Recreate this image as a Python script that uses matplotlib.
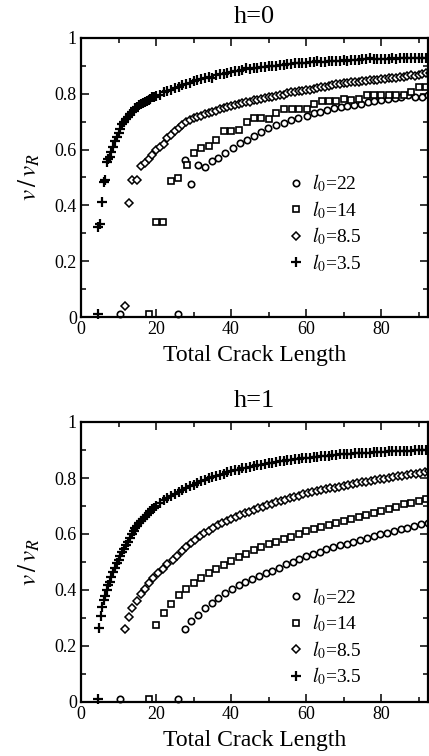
import matplotlib
matplotlib.use('Agg')
import matplotlib.pyplot as plt
from matplotlib.ticker import MultipleLocator, FuncFormatter

plt.rcParams['font.family'] = ['Liberation Serif', 'DejaVu Serif']
plt.rcParams['mathtext.fontset'] = 'stix'

# ---- data: h=0 panel ----
h0_x_22 = [10.5, 25.8, 27.7, 29.4, 31.2, 33.1, 34.8, 36.6, 38.4, 40.4,
           42.4, 44.2, 46.1, 48.0, 49.9, 52.0, 54.0, 56.0, 57.9, 60.2,
           62.0, 63.8, 65.6, 67.4, 69.2, 71.0, 72.8, 74.6, 76.4, 78.2,
           80.0, 81.8, 83.6, 85.4, 87.2, 89.0, 90.8, 92.6]
h0_y_22 = [0.01, 0.01, 0.562, 0.476, 0.544, 0.536, 0.56, 0.57, 0.589, 0.604,
           0.622, 0.634, 0.648, 0.664, 0.676, 0.688, 0.694, 0.706, 0.712, 0.722,
           0.73, 0.736, 0.742, 0.748, 0.753, 0.756, 0.76, 0.763, 0.771, 0.775,
           0.778, 0.78, 0.784, 0.79, 0.795, 0.79, 0.79, 0.795]

h0_x_14 = [18.0, 19.9, 21.9, 24.0, 25.9, 28.2, 30.1, 32.0, 34.1, 36.1,
           38.0, 40.0, 42.0, 44.2, 46.1, 48.0, 50.1, 52.0, 54.1, 56.2,
           58.2, 60.2, 62.1, 64.2, 66.0, 68.0, 70.0, 72.0, 74.0, 76.2,
           78.2, 80.1, 82.1, 84.1, 86.1, 88.1, 90.0, 92.0]
h0_y_14 = [0.01, 0.341, 0.341, 0.487, 0.50, 0.545, 0.589, 0.606, 0.614, 0.634,
           0.666, 0.666, 0.672, 0.70, 0.712, 0.715, 0.71, 0.73, 0.745, 0.745,
           0.745, 0.745, 0.762, 0.775, 0.775, 0.775, 0.781, 0.777, 0.781, 0.795,
           0.795, 0.795, 0.795, 0.795, 0.795, 0.805, 0.823, 0.823]

h0_x_85 = [11.6, 12.7, 13.7, 14.9,
           16, 17, 18, 19, 20, 21, 22, 23, 24, 25, 26, 27, 28, 29, 30,
           31, 32, 33, 34, 35, 36, 37, 38, 39, 40, 41, 42, 43, 44, 45,
           46, 47, 48, 49, 50, 51, 52, 53, 54, 55, 56, 57, 58, 59, 60,
           61, 62, 63, 64, 65, 66, 67, 68, 69, 70, 71, 72, 73, 74, 75,
           76, 77, 78, 79, 80, 81, 82, 83, 84, 85, 86, 87, 88, 89, 90,
           91, 92, 93]
h0_y_85 = [0.038, 0.409, 0.49, 0.49,
           0.54, 0.552, 0.566, 0.58, 0.598, 0.61, 0.62, 0.64, 0.652, 0.665,
           0.676, 0.688, 0.70, 0.705, 0.712, 0.716, 0.722, 0.728, 0.732, 0.736,
           0.74, 0.745, 0.748, 0.752, 0.756, 0.76, 0.763, 0.766, 0.77, 0.772,
           0.776, 0.779, 0.782, 0.784, 0.787, 0.79, 0.792, 0.795, 0.797, 0.803,
           0.805, 0.807, 0.809, 0.811, 0.813, 0.815, 0.818, 0.82, 0.823, 0.825,
           0.828, 0.83, 0.835, 0.835, 0.838, 0.84, 0.841, 0.843, 0.844, 0.846,
           0.847, 0.848, 0.85, 0.851, 0.852, 0.853, 0.855, 0.856, 0.858, 0.859,
           0.861, 0.863, 0.866, 0.864, 0.868, 0.872, 0.874, 0.876]

h0_x_35 = [4.5, 4.6, 5.0, 5.6, 6.1, 6.3,
           6.9, 7.2, 7.6, 8.0, 8.5, 9.0, 9.5, 10.0, 10.5, 11.0, 11.5, 12.0,
           12.5, 13.0, 13.5, 14.0, 14.5, 15.0, 15.5, 16.0, 16.5, 17.0, 17.5,
           18.0, 18.5, 19.0, 19.5, 20.0,
           21, 22, 23, 24, 25, 26, 27, 28, 29, 30,
           31, 32, 33, 34, 35, 36, 37, 38, 39, 40,
           41, 42, 43, 44, 45, 46, 47, 48, 49, 50,
           51, 52, 53, 54, 55, 56, 57, 58, 59, 60,
           61, 62, 63, 64, 65, 66, 67, 68, 69, 70,
           71, 72, 73, 74, 75, 76, 77, 78, 79, 80,
           81, 82, 83, 84, 85, 86, 87, 88, 89, 90,
           91, 92, 93]
h0_y_35 = [0.01, 0.323, 0.335, 0.413, 0.485, 0.49,
           0.556, 0.565, 0.575, 0.59, 0.61, 0.63, 0.645, 0.66, 0.675, 0.69,
           0.70, 0.71, 0.718, 0.728, 0.735, 0.74, 0.748, 0.752, 0.76, 0.762,
           0.768, 0.77, 0.775, 0.778, 0.782, 0.787, 0.79, 0.792,
           0.797, 0.805, 0.81, 0.815, 0.82, 0.826, 0.83, 0.836, 0.84, 0.846,
           0.85, 0.853, 0.858, 0.86, 0.858, 0.866, 0.87, 0.872, 0.874, 0.878,
           0.88, 0.882, 0.884, 0.892, 0.888, 0.892, 0.893, 0.895, 0.897, 0.898,
           0.90, 0.898, 0.903, 0.905, 0.906, 0.907, 0.909, 0.91, 0.91, 0.912,
           0.913, 0.913, 0.918, 0.915, 0.915, 0.916, 0.918, 0.918, 0.919, 0.92,
           0.916, 0.921, 0.922, 0.922, 0.923, 0.923, 0.928, 0.924, 0.925, 0.925,
           0.926, 0.926, 0.927, 0.923, 0.927, 0.928, 0.928, 0.929, 0.929, 0.93,
           0.93, 0.93, 0.931]

# ---- data: h=1 panel ----
h1_x_22 = [10.5, 25.8, 27.6, 29.4, 31.2, 33.0, 34.8, 36.6, 38.4, 40.2,
           42.0, 43.8, 45.6, 47.4, 49.2, 51.0, 52.8, 54.6, 56.4, 58.2,
           60.0, 61.8, 63.6, 65.4, 67.2, 69.0, 70.8, 72.6, 74.4, 76.2,
           78.0, 79.8, 81.6, 83.4, 85.2, 87.0, 88.8, 90.6, 92.4]
h1_y_22 = [0.01, 0.01, 0.26, 0.288, 0.312, 0.334, 0.354, 0.373, 0.391, 0.405,
           0.417, 0.429, 0.438, 0.45, 0.459, 0.467, 0.48, 0.492, 0.50, 0.51,
           0.52, 0.529, 0.537, 0.545, 0.552, 0.559, 0.566, 0.573, 0.58, 0.586,
           0.593, 0.599, 0.605, 0.611, 0.617, 0.623, 0.629, 0.635, 0.641]

h1_x_14 = [18.0, 20.1, 22.1, 24.1, 26.0, 28.1, 30.1, 32.1, 34.1, 36.1,
           38.1, 40, 42, 44, 46, 48, 50, 52, 54, 56,
           58, 60, 62, 64, 66, 68, 70, 72, 74, 76,
           78, 80, 82, 84, 86, 88, 90, 92]
h1_y_14 = [0.01, 0.276, 0.318, 0.351, 0.381, 0.405, 0.425, 0.444, 0.462, 0.476,
           0.491, 0.505, 0.518, 0.53, 0.543, 0.553, 0.563, 0.573, 0.582, 0.591,
           0.60, 0.609, 0.617, 0.625, 0.633, 0.641, 0.648, 0.655, 0.662, 0.669,
           0.676, 0.683, 0.69, 0.697, 0.706, 0.712, 0.719, 0.726]

h1_x_85 = [11.6, 12.7, 13.7, 14.8, 15.9, 17.0, 18.1, 19.2, 20.5, 21.9, 23.0,
           24.4, 25.6, 26.8, 28.0, 29.2, 30.4, 31.6, 32.8, 34.0, 35.2,
           36.4, 37.6, 38.8, 40.0, 41.2, 42.4, 43.6, 44.8, 46.0, 47.2,
           48.4, 49.6, 50.8, 52.0, 53.2, 54.4, 55.6, 56.8, 58.0, 59.2,
           60.4, 61.6, 62.8, 64.0, 65.2, 66.4, 67.6, 68.8, 70.0, 71.2,
           72.4, 73.6, 74.8, 76.0, 77.2, 78.4, 79.6, 80.8, 82.0, 83.2,
           84.4, 85.6, 86.8, 88.0, 89.2, 90.4, 91.6, 92.8]
h1_y_85 = [0.26, 0.304, 0.336, 0.36, 0.384, 0.405, 0.426, 0.443, 0.459, 0.476, 0.492,
           0.506, 0.522, 0.538, 0.553, 0.567, 0.58, 0.592, 0.602, 0.612, 0.622,
           0.632, 0.64, 0.648, 0.655, 0.662, 0.668, 0.674, 0.68, 0.686, 0.692,
           0.698, 0.703, 0.708, 0.713, 0.718, 0.723, 0.728, 0.733, 0.737, 0.742,
           0.746, 0.75, 0.754, 0.757, 0.76, 0.763, 0.766, 0.769, 0.772, 0.775,
           0.778, 0.781, 0.784, 0.787, 0.79, 0.793, 0.795, 0.798, 0.80, 0.803,
           0.806, 0.808, 0.811, 0.814, 0.816, 0.819, 0.821, 0.824]

h1_x_35 = [4.5,
           4.7, 5.2, 5.6, 6.0, 6.4, 6.8, 7.2, 7.6, 8.0, 8.5, 9.0, 9.5, 10.0,
           10.5, 11.0, 11.5, 12.0, 12.5, 13.0, 13.5, 14.0, 14.5, 15.0, 15.5,
           16.0, 16.5, 17.0, 17.5, 18.0, 18.5, 19.0, 19.5, 20.0,
           21, 22, 23, 24, 25, 26, 27, 28, 29, 30,
           31, 32, 33, 34, 35, 36, 37, 38, 39, 40,
           41, 42, 43, 44, 45, 46, 47, 48, 49, 50,
           51, 52, 53, 54, 55, 56, 57, 58, 59, 60,
           61, 62, 63, 64, 65, 66, 67, 68, 69, 70,
           71, 72, 73, 74, 75, 76, 77, 78, 79, 80,
           81, 82, 83, 84, 85, 86, 87, 88, 89, 90,
           91, 92, 93]
h1_y_35 = [0.01,
           0.264, 0.306, 0.339, 0.363, 0.38, 0.40, 0.417, 0.43, 0.447, 0.464,
           0.48, 0.495, 0.508, 0.52, 0.535, 0.548, 0.56, 0.572, 0.585, 0.60,
           0.61, 0.62, 0.628, 0.638, 0.646, 0.654, 0.662, 0.668, 0.675, 0.682,
           0.688, 0.694, 0.70,
           0.71, 0.72, 0.728, 0.736, 0.744, 0.75, 0.757, 0.764, 0.77, 0.776,
           0.782, 0.79, 0.794, 0.80, 0.804, 0.808, 0.812, 0.816, 0.82, 0.824,
           0.827, 0.83, 0.834, 0.836, 0.84, 0.843, 0.845, 0.848, 0.85, 0.852,
           0.855, 0.857, 0.86, 0.861, 0.863, 0.865, 0.867, 0.868, 0.87, 0.872,
           0.873, 0.875, 0.876, 0.878, 0.879, 0.88, 0.881, 0.882, 0.884, 0.885,
           0.886, 0.887, 0.888, 0.888, 0.889, 0.89, 0.891, 0.892, 0.892, 0.893,
           0.894, 0.895, 0.895, 0.896, 0.896, 0.897, 0.898, 0.898, 0.899, 0.90,
           0.90, 0.901, 0.901]

labels = [r'$l_0$=22', r'$l_0$=14', r'$l_0$=8.5', r'$l_0$=3.5']
titles = ['h=0', 'h=1']

# marker styles per series (22, 14, 8.5, 3.5)
styles = [dict(marker='o', ms=4.6, mfc='white', mec='black', mew=1.2),
          dict(marker='s', ms=4.2, mfc='white', mec='black', mew=1.2),
          dict(marker='D', ms=3.8, mfc='white', mec='black', mew=1.1),
          dict(marker='+', ms=6.5, mec='black', mew=1.6)]

panels = [
    [(h0_x_22, h0_y_22), (h0_x_14, h0_y_14), (h0_x_85, h0_y_85), (h0_x_35, h0_y_35)],
    [(h1_x_22, h1_y_22), (h1_x_14, h1_y_14), (h1_x_85, h1_y_85), (h1_x_35, h1_y_35)],
]

W, H = 429, 756
fig = plt.figure(figsize=(W / 100, H / 100), dpi=100)

# axes boxes in pixels: left, top, right, bottom
boxes = [(81, 38, 428, 317), (81, 422, 428, 702)]
# legend anchor (axes fraction) for each panel
legend_at = [(0.553, 0.567), (0.553, 0.463)]

fmt = FuncFormatter(lambda v, _: f'{v:g}')

for (l, t, r, b), data, title, anchor in zip(boxes, panels, titles, legend_at):
    ax = fig.add_axes([l / W, 1 - b / H, (r - l) / W, (b - t) / H])
    for (xs, ys), lab, st in zip(data, labels, styles):
        ax.plot(xs, ys, linestyle='none', label=lab, clip_on=False, **st)

    ax.set_xlim(0, (r - l) / 3.75)
    ax.set_ylim(0, 1)
    ax.xaxis.set_major_locator(MultipleLocator(20))
    ax.xaxis.set_minor_locator(MultipleLocator(10))
    ax.yaxis.set_major_locator(MultipleLocator(0.2))
    ax.yaxis.set_minor_locator(MultipleLocator(0.1))
    ax.xaxis.set_major_formatter(fmt)
    ax.yaxis.set_major_formatter(fmt)
    ax.tick_params(which='both', direction='in', top=True, right=True,
                   labelsize=13, width=1.1, pad=3)
    ax.tick_params(which='major', length=6)
    ax.tick_params(which='minor', length=3.5)
    for sp in ax.spines.values():
        sp.set_linewidth(1.6)

    ax.set_title(title, fontsize=19, pad=11)
    ax.set_xlabel('Total Crack Length', fontsize=17, labelpad=5)
    ax.set_ylabel(r'$v\,/\,v_R$', fontsize=18, labelpad=9)

    ax.legend(loc='upper left', bbox_to_anchor=anchor, frameon=False,
              fontsize=14, handlelength=1.0, handletextpad=0.3,
              labelspacing=0.25, borderpad=0.2)

fig.savefig('out.png', dpi=100)
